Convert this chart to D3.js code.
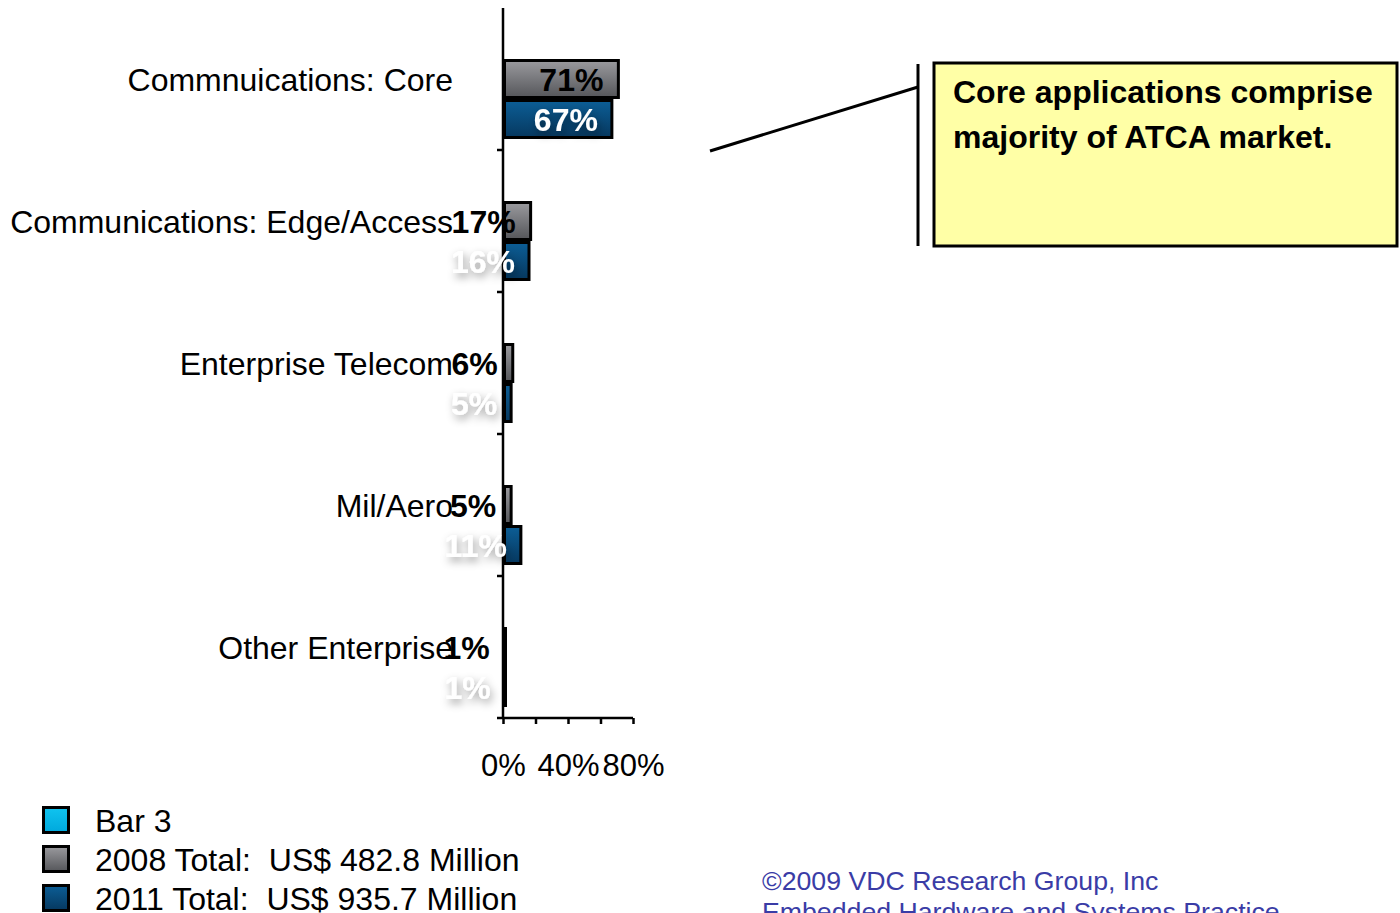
<!DOCTYPE html>
<meta charset="utf-8">
<head>
<script src="https://d3js.org/d3.v7.min.js"></script>
</head>
<style>
	body { margin: 0; background: #fff; }
	text { font-family: "Liberation Sans", Arial, sans-serif; }
	.axis path, .axis line { stroke: #000; stroke-width: 2.5px; }
	.axis text { font-size: 31px; fill: #000; }
</style>
<body>
<script>
	// chart values
	var categories = ["Commnuications: Core", "Communications: Edge/Access", "Enterprise Telecom", "Mil/Aero", "Other Enterprise"];
	var seriesNames = ["Bar 3", "2008 Total:  US$ 482.8 Million", "2011 Total:  US$ 935.7 Million"];
	var bar3Values = [0, 0, 0, 0, 0];
	var values2008 = [71, 17, 6, 5, 1];
	var values2011 = [67, 16, 5, 11, 1];
	var xTicks = [0, 20, 40, 60, 80];
	var xTickLabels = [0, 40, 80];
	var calloutLines = ["Core applications comprise", "majority of ATCA market."];
	var footerLines = ["\u00a92009 VDC Research Group, Inc", "Embedded Hardware and Systems Practice"];

	var width = 1400, height = 913;

	var svg = d3.select("body").append("svg")
		.attr("width", width)
		.attr("height", height);

	var defs = svg.append("defs");
	function grad(id, top, bottom) {
		var g = defs.append("linearGradient").attr("id", id)
			.attr("x1", 0).attr("y1", 0).attr("x2", 0).attr("y2", 1);
		g.append("stop").attr("offset", "0%").attr("stop-color", top);
		g.append("stop").attr("offset", "100%").attr("stop-color", bottom);
	}
	grad("gradGray", "#9a9a9e", "#55565a");
	grad("gradBlue", "#0c5e96", "#06385f");
	grad("gradCyan", "#10c4f0", "#00a8dc");

	var shadow = defs.append("filter").attr("id", "shadow")
		.attr("x", "-30%").attr("y", "-40%").attr("width", "160%").attr("height", "180%");
	shadow.append("feDropShadow")
		.attr("dx", 2).attr("dy", 4).attr("stdDeviation", 4)
		.attr("flood-color", "#000").attr("flood-opacity", 0.4);

	var seriesFill = ["url(#gradCyan)", "url(#gradGray)", "url(#gradBlue)"];

	var data = categories.map(function(c, i) {
		return { cat: c, vals: [bar3Values[i], values2008[i], values2011[i]] };
	});

	// scales
	var x = d3.scaleLinear().domain([0, 80]).range([503, 633]);
	var y = d3.scaleBand().domain(categories).range([8, 718]);
	var ySub = d3.scaleBand().domain(d3.range(seriesNames.length))
		.range([11, y.bandwidth() - 11]);

	// axes
	svg.append("g")
		.attr("class", "axis")
		.attr("transform", "translate(0,718)")
		.call(d3.axisBottom(x).tickValues(xTicks).tickSize(6).tickPadding(30)
			.tickFormat(function(d) { return xTickLabels.indexOf(d) >= 0 ? d + "%" : ""; }))
		.call(function(g) { g.select(".domain").attr("d", "M497,0H633"); });

	svg.append("g")
		.attr("class", "axis")
		.attr("transform", "translate(503,0)")
		.call(d3.axisLeft(y).tickValues([]).tickSizeOuter(0))
		.call(function(g) {
			g.select(".domain").attr("d", "M0,8V718");
			var bounds = d3.range(1, categories.length).map(function(i) { return 8 + i * y.bandwidth(); });
			g.selectAll(".bt").data(bounds).enter().append("line")
				.attr("x1", -6).attr("x2", 0)
				.attr("y1", function(d) { return d; }).attr("y2", function(d) { return d; });
		});

	// bars
	var groups = svg.selectAll(".grp").data(data).enter().append("g")
		.attr("class", "grp")
		.attr("transform", function(d) { return "translate(0," + y(d.cat) + ")"; });

	groups.selectAll("rect").data(function(d) { return d.vals.map(function(v, j) { return { v: v, j: j }; }); })
		.enter().filter(function(d) { return d.v > 0; }).append("rect")
		.attr("x", x(0) + 1.5)
		.attr("y", function(d) { return ySub(d.j) + 1.5; })
		.attr("width", function(d) { return Math.max(x(d.v) - x(0) - 1.5, 1); })
		.attr("height", ySub.bandwidth() - 3)
		.attr("fill", function(d) { return seriesFill[d.j]; })
		.attr("stroke", "#000")
		.attr("stroke-width", 3);

	// category labels
	groups.append("text")
		.attr("x", 453)
		.attr("y", ySub(1) + ySub.bandwidth() / 2)
		.attr("dy", "0.36em")
		.attr("text-anchor", "end")
		.style("font-size", "32px")
		.text(function(d) { return d.cat; });

	// value labels
	groups.append("text")
		.attr("x", function(d) { return x(d.vals[1]) - 15; })
		.attr("y", ySub(1) + ySub.bandwidth() / 2)
		.attr("dy", "0.36em")
		.attr("text-anchor", "end")
		.style("font-size", "32px")
		.style("font-weight", "bold")
		.attr("fill", "#000")
		.text(function(d) { return d.vals[1] + "%"; });

	groups.append("text")
		.attr("x", function(d) { return x(d.vals[2]) - 14; })
		.attr("y", ySub(2) + ySub.bandwidth() / 2)
		.attr("dy", "0.36em")
		.attr("text-anchor", "end")
		.style("font-size", "32px")
		.style("font-weight", "bold")
		.attr("fill", "#fff")
		.attr("filter", "url(#shadow)")
		.text(function(d) { return d.vals[2] + "%"; });

	// legend
	var legend = svg.append("g").attr("transform", "translate(42,806)");
	var li = legend.selectAll("g").data(seriesNames).enter().append("g")
		.attr("transform", function(d, i) { return "translate(0," + i * 39 + ")"; });
	li.append("rect")
		.attr("x", 1.5).attr("y", 1.5).attr("width", 25).attr("height", 25)
		.attr("fill", function(d, i) { return seriesFill[i]; })
		.attr("stroke", "#000").attr("stroke-width", 3);
	li.append("text")
		.attr("x", 53).attr("y", 14).attr("dy", "0.36em")
		.style("font-size", "32px")
		.style("white-space", "pre")
		.attr("xml:space", "preserve")
		.text(function(d) { return d; });

	// callout
	svg.append("line")
		.attr("x1", 710).attr("y1", 151).attr("x2", 918).attr("y2", 87)
		.attr("stroke", "#000").attr("stroke-width", 3);
	svg.append("line")
		.attr("x1", 918).attr("y1", 64).attr("x2", 918).attr("y2", 246)
		.attr("stroke", "#000").attr("stroke-width", 3);
	svg.append("rect")
		.attr("x", 934).attr("y", 63).attr("width", 463).attr("height", 183)
		.attr("fill", "#ffffa6").attr("stroke", "#000").attr("stroke-width", 3);
	svg.selectAll(".callout").data(calloutLines).enter().append("text")
		.attr("class", "callout")
		.attr("x", 953)
		.attr("y", function(d, i) { return 103 + i * 45; })
		.style("font-size", "32px")
		.style("font-weight", "bold")
		.text(function(d) { return d; });

	// footer
	svg.selectAll(".foot").data(footerLines).enter().append("text")
		.attr("class", "foot")
		.attr("x", 762)
		.attr("y", function(d, i) { return 890 + i * 31; })
		.style("font-size", "26.7px")
		.attr("fill", "#3a3ca6")
		.text(function(d) { return d; });
</script>
</body>
